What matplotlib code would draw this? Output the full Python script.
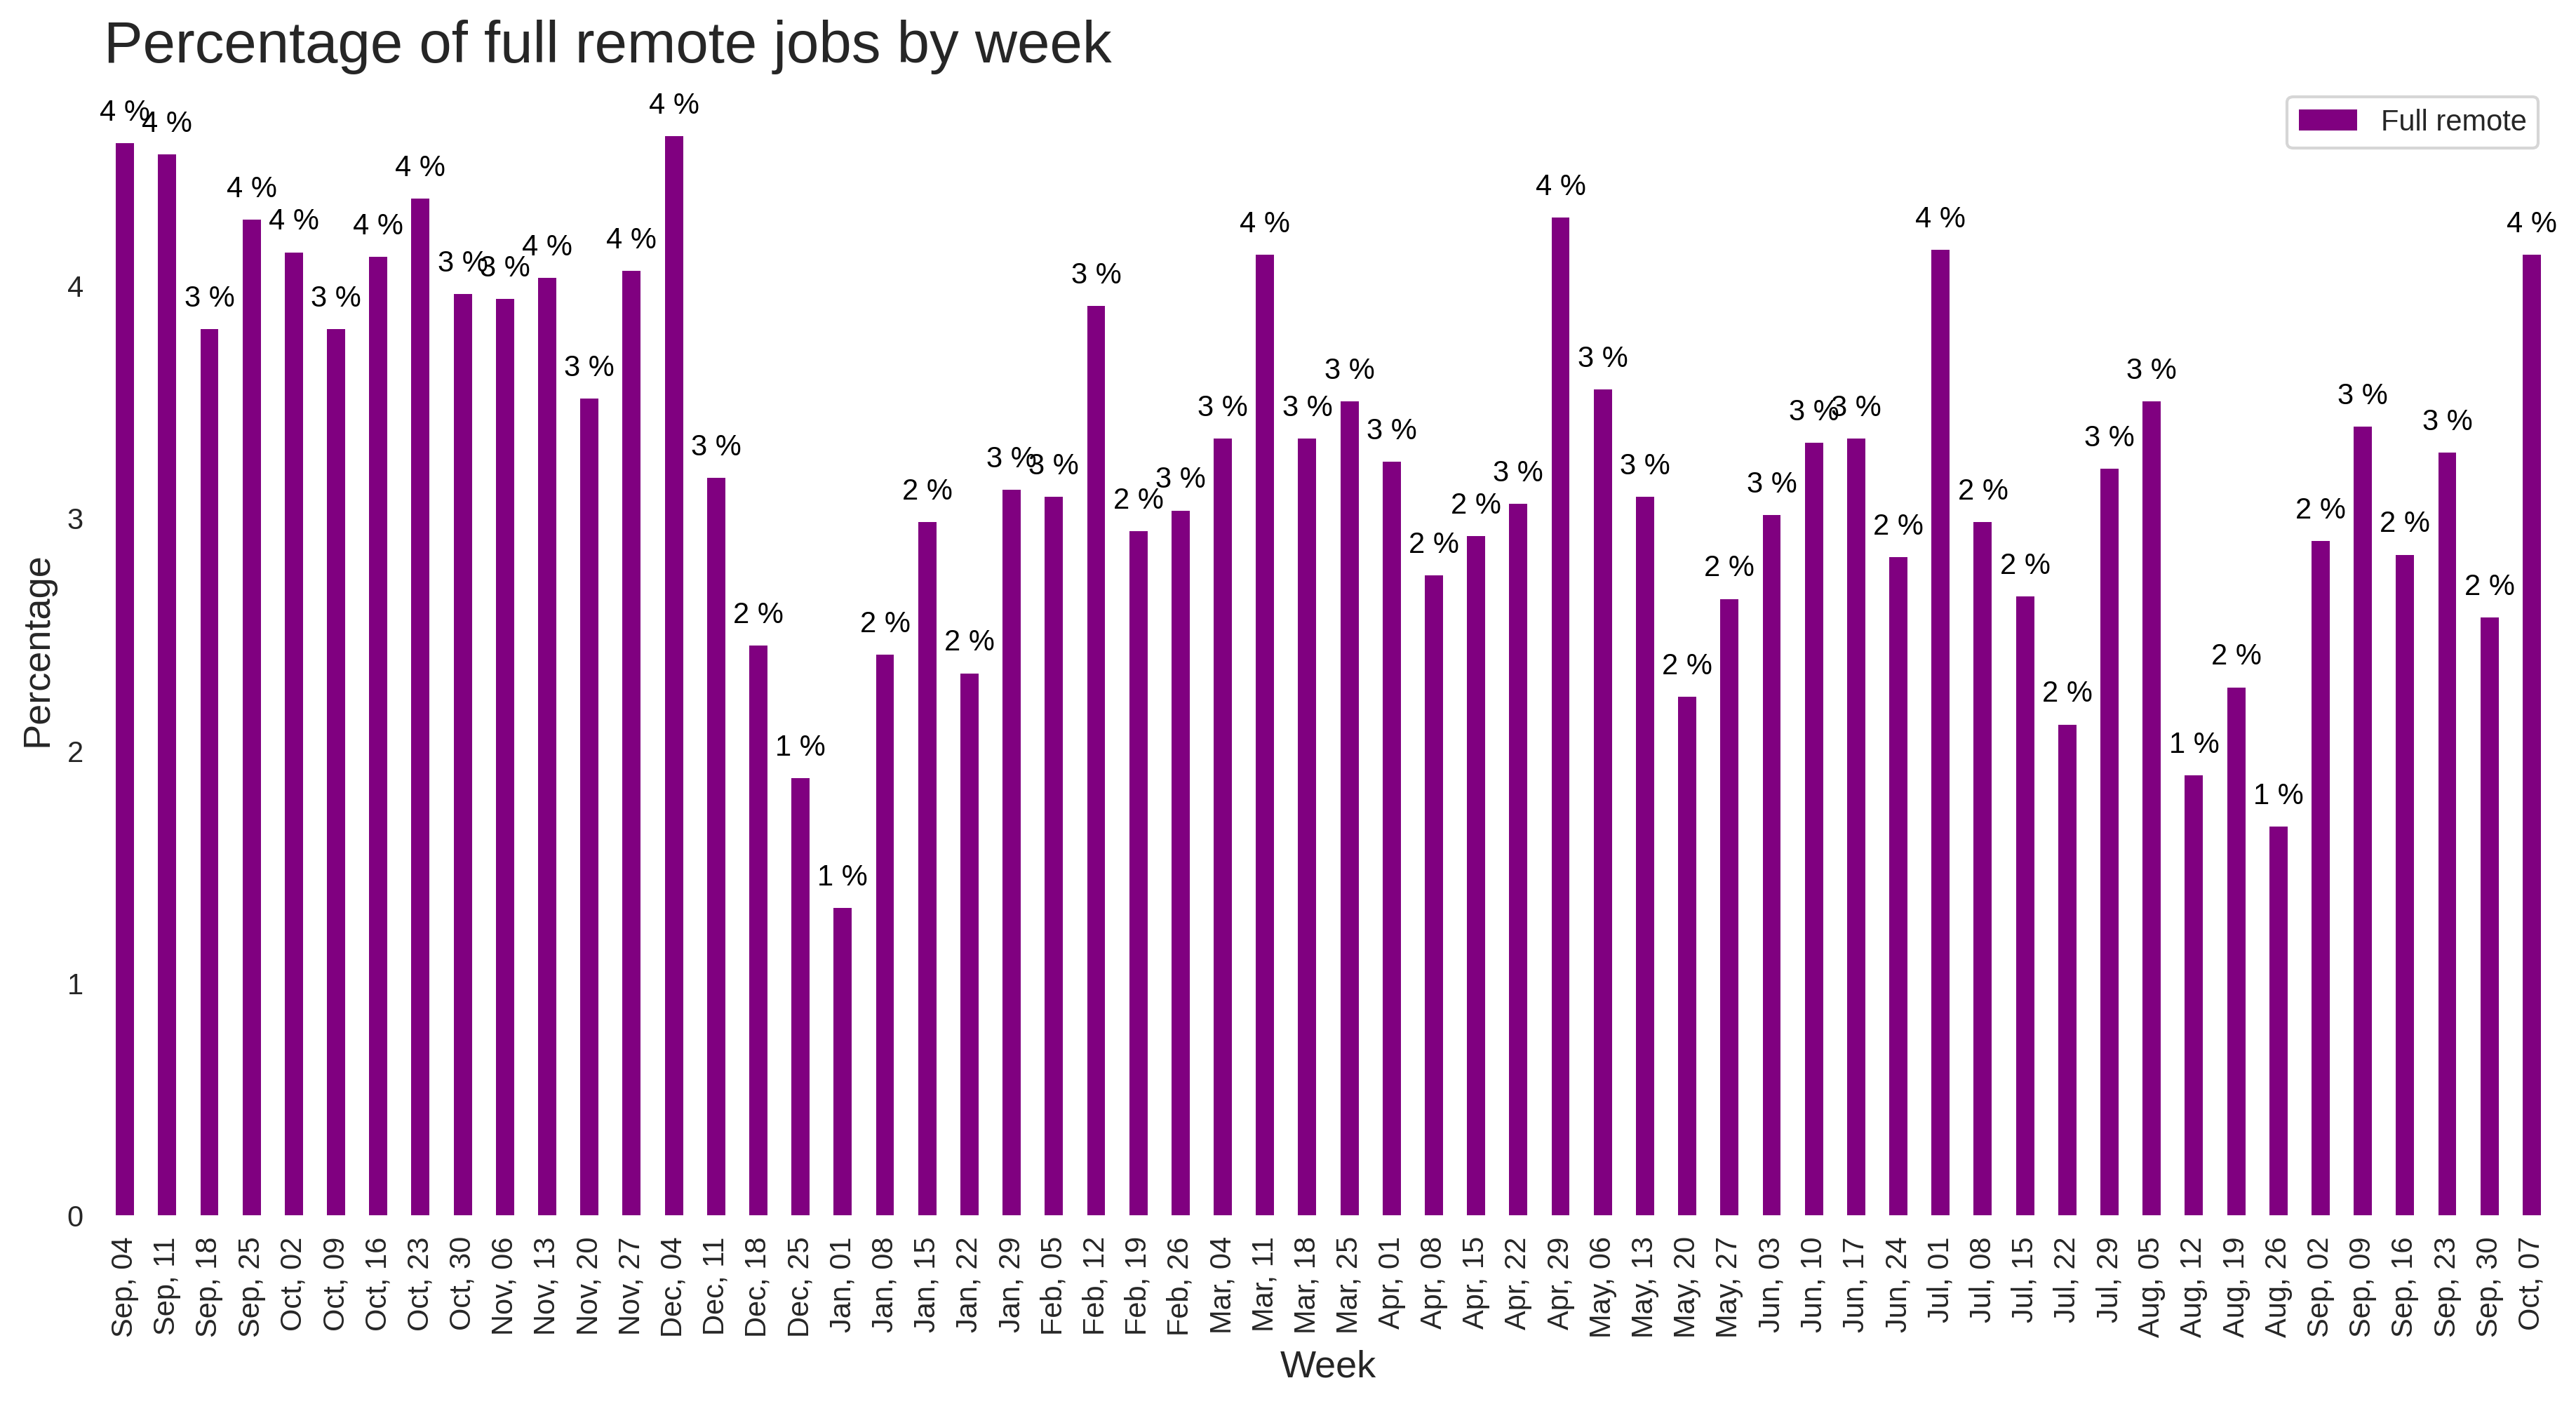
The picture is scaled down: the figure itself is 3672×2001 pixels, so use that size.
import matplotlib
matplotlib.use("Agg")
import matplotlib.pyplot as plt

weeks = ["Sep, 04", "Sep, 11", "Sep, 18", "Sep, 25", "Oct, 02", "Oct, 09", "Oct, 16", "Oct, 23",
         "Oct, 30", "Nov, 06", "Nov, 13", "Nov, 20", "Nov, 27", "Dec, 04", "Dec, 11", "Dec, 18",
         "Dec, 25", "Jan, 01", "Jan, 08", "Jan, 15", "Jan, 22", "Jan, 29", "Feb, 05", "Feb, 12",
         "Feb, 19", "Feb, 26", "Mar, 04", "Mar, 11", "Mar, 18", "Mar, 25", "Apr, 01", "Apr, 08",
         "Apr, 15", "Apr, 22", "Apr, 29", "May, 06", "May, 13", "May, 20", "May, 27", "Jun, 03",
         "Jun, 10", "Jun, 17", "Jun, 24", "Jul, 01", "Jul, 08", "Jul, 15", "Jul, 22", "Jul, 29",
         "Aug, 05", "Aug, 12", "Aug, 19", "Aug, 26", "Sep, 02", "Sep, 09", "Sep, 16", "Sep, 23",
         "Sep, 30", "Oct, 07"]

full_remote = [4.61, 4.56, 3.81, 4.28, 4.14, 3.81, 4.12, 4.37,
               3.96, 3.94, 4.03, 3.51, 4.06, 4.64, 3.17, 2.45,
               1.88, 1.32, 2.41, 2.98, 2.33, 3.12, 3.09, 3.91,
               2.94, 3.03, 3.34, 4.13, 3.34, 3.50, 3.24, 2.75,
               2.92, 3.06, 4.29, 3.55, 3.09, 2.23, 2.65, 3.01,
               3.32, 3.34, 2.83, 4.15, 2.98, 2.66, 2.11, 3.21,
               3.50, 1.89, 2.27, 1.67, 2.90, 3.39, 2.84, 3.28,
               2.57, 4.13]

series_name = "Full remote"
title = "Percentage of full remote jobs by week"

plt.rcParams['font.family'] = ['Liberation Sans', 'DejaVu Sans']
TXT = '#262626'

fig = plt.figure(figsize=(3672 / 300, 2002 / 300), dpi=300)
ax = fig.add_axes([148 / 3672, 1 - 1733 / 2002, (3639 - 148) / 3672, (1733 - 118) / 2002])

x = list(range(len(weeks)))
bars = ax.bar(x, full_remote, width=0.43, color='purple', label=series_name)

for xi, v in zip(x, full_remote):
    ax.text(xi, v + 0.1, f"{int(v)} %", ha='center', va='baseline', fontsize=10, color='black')

ax.set_xlim(-0.5, len(weeks) - 0.5)
ax.set_ylim(0, max(full_remote) * 1.05)
ax.set_xticks(x)
ax.set_xticklabels(weeks, rotation=90)
ax.set_yticks([0, 1, 2, 3, 4])
ax.tick_params(axis='both', length=0, pad=7, labelsize=10, labelcolor=TXT)

for s in ax.spines.values():
    s.set_visible(False)

ax.set_xlabel("Week", fontsize=13, color=TXT)
ax.set_ylabel("Percentage", fontsize=13, color=TXT)
ax.set_title(title, loc='left', fontsize=20, color=TXT, pad=7)

leg = ax.legend(loc='upper right', fontsize=10, frameon=True, fancybox=True)
leg.get_frame().set_edgecolor('#cccccc')
for t in leg.get_texts():
    t.set_color(TXT)

fig.savefig("out.png", dpi=300, facecolor='white')
